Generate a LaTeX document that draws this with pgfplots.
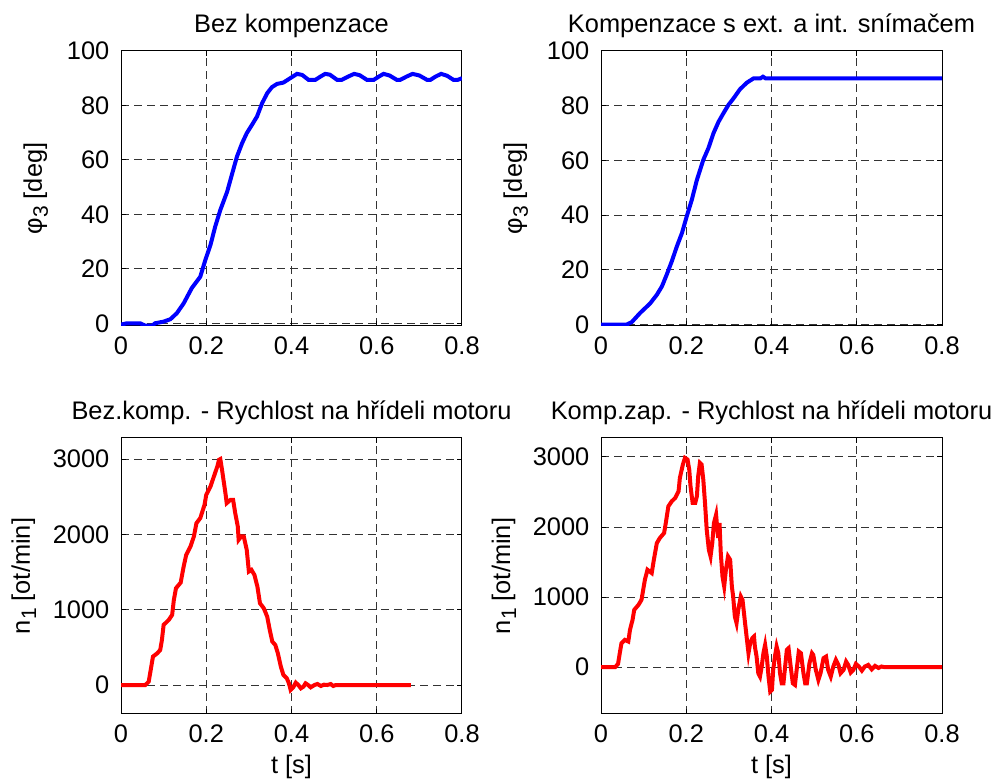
\documentclass[border=0pt]{standalone}
\usepackage{pgfplots}
\pgfplotsset{compat=1.18}
\usepackage{fontspec}
\setmainfont{Liberation Sans}

\newcommand{\sub}[1]{\raisebox{-0.45ex}{\fontsize{10.5}{12}\selectfont #1}}

% step responses: load angle and motor speed, without / with compensation
\pgfplotstableread{
t phi
0 -0.5
0.014 0
0.045 0
0.057 -0.9
0.073 -0.9
0.08 0
0.1 0.6
0.116 1.5
0.131 3.7
0.147 7.3
0.166 12.9
0.186 17.1
0.198 23.3
0.21 28.8
0.221 35.5
0.233 41.6
0.249 48.3
0.26 54.5
0.272 61.2
0.284 66.1
0.295 69.8
0.307 72.8
0.319 75.9
0.331 80.8
0.343 84.5
0.354 86.7
0.366 87.9
0.381 88.4
0.397 90.0
0.413 91.6
0.425 91.2
0.44 89.4
0.456 89.4
0.468 90.6
0.479 91.6
0.49 91.3
0.507 89.4
0.518 89.4
0.533 90.6
0.547 91.6
0.56 91.1
0.577 89.4
0.593 89.4
0.605 90.6
0.616 91.6
0.63 91.0
0.647 89.4
0.655 89.4
0.67 90.6
0.684 91.6
0.70 91.0
0.718 89.4
0.726 89.4
0.738 90.6
0.751 91.6
0.765 90.9
0.78 89.4
0.79 89.4
0.8 90.0
}\phiA

\pgfplotstableread{
t phi
0 0
0.06 0
0.072 0.9
0.092 4.3
0.115 7.7
0.131 10.9
0.143 14.0
0.154 18.2
0.166 23.1
0.178 28.6
0.19 33.5
0.201 39.5
0.213 45.6
0.225 52.9
0.24 60.2
0.252 64.5
0.264 70.0
0.276 74.2
0.287 77.2
0.299 80.3
0.311 82.7
0.326 86.0
0.342 88.4
0.358 90.0
0.374 90.0
0.38 90.6
0.386 90.0
0.8 90.0
}\phiB

\pgfplotstableread{
t n
0 0
0.057 0
0.065 44
0.069 177
0.075 377
0.085 421
0.092 465
0.096 598
0.1 798
0.112 864
0.12 931
0.124 1130
0.129 1285
0.14 1360
0.147 1573
0.153 1728
0.163 1839
0.171 1972
0.177 2149
0.186 2216
0.196 2393
0.2 2526
0.21 2637
0.218 2770
0.226 2902
0.23 2991
0.233 3000
0.237 2858
0.241 2703
0.245 2548
0.248 2415
0.257 2459
0.263 2459
0.268 2282
0.274 2105
0.276 1928
0.282 1972
0.288 1972
0.295 1795
0.3 1507
0.306 1529
0.313 1462
0.32 1307
0.326 1086
0.335 1019
0.343 908
0.349 731
0.355 576
0.362 532
0.368 421
0.375 244
0.381 133
0.389 89
0.394 22
0.398 -66
0.404 -31
0.41 31
0.416 0
0.422 -44
0.428 -22
0.433 22
0.439 0
0.445 -31
0.454 0
0.461 13
0.469 -13
0.476 4
0.484 0
0.492 13
0.498 -13
0.504 0
0.68 0
}\speedA

\pgfplotstableread{
t n
0 0
0.033 0
0.04 48
0.044 200
0.048 343
0.056 390
0.064 367
0.068 533
0.074 676
0.078 819
0.088 890
0.095 962
0.099 1105
0.103 1248
0.109 1390
0.119 1343
0.124 1533
0.131 1771
0.138 1843
0.148 1914
0.152 2057
0.158 2295
0.166 2367
0.174 2414
0.182 2510
0.185 2700
0.192 2890
0.197 2986
0.203 2962
0.207 2819
0.21 2581
0.215 2343
0.221 2343
0.225 2438
0.228 2724
0.232 2914
0.236 2890
0.24 2676
0.244 2343
0.248 1962
0.253 1676
0.257 1581
0.261 1771
0.265 2057
0.27 2176
0.273 1962
0.275 1843
0.278 2057
0.281 1629
0.285 1295
0.289 1152
0.293 1390
0.298 1581
0.303 1533
0.307 1152
0.31 1010
0.314 724
0.318 629
0.322 819
0.328 1010
0.332 962
0.338 629
0.342 414
0.346 200
0.35 343
0.355 414
0.359 438
0.361 295
0.365 152
0.369 -86
0.373 -133
0.377 10
0.381 200
0.385 319
0.389 152
0.393 -133
0.397 -348
0.401 -324
0.404 -38
0.408 152
0.412 295
0.416 200
0.42 -86
0.424 -229
0.428 -229
0.432 10
0.436 248
0.44 271
0.445 10
0.45 -229
0.455 -252
0.459 -38
0.464 224
0.469 200
0.475 -86
0.479 -229
0.483 -229
0.489 57
0.495 200
0.498 176
0.504 -38
0.51 -181
0.515 -86
0.522 129
0.528 152
0.533 -38
0.539 -133
0.545 10
0.551 105
0.557 33
0.562 -86
0.569 -38
0.575 81
0.58 33
0.586 -76
0.592 -38
0.598 48
0.605 10
0.612 -48
0.619 10
0.627 33
0.635 -29
0.643 19
0.651 -10
0.658 10
0.666 0
0.8 0
}\speedB

\begin{document}
\begin{tikzpicture}
\pgfplotsset{
  every axis/.append style={
    font=\fontsize{12.7}{15}\selectfont,
    scale only axis,
    width=170.5pt,
    xmin=0, xmax=0.8,
    xtick={0,0.2,0.4,0.6,0.8},
    xticklabels={0,0.2,0.4,0.6,0.8},
    grid=major,
    major grid style={dash pattern=on 4pt off 2.5pt, black!80, line width=0.5pt},
    axis line style={black, line width=0.5pt},
    tick align=inside,
    major tick length=2.5pt,
    tick style={black, line width=0.5pt},
    title style={at={(0.5,1)}, anchor=base, yshift=3pt},
    xticklabel style={yshift=-2pt},
    yticklabel style={xshift=-2.3pt},
    /pgf/number format/assume math mode=true,
  },
}
\path[use as bounding box] (0,0) rectangle (497.5pt,390pt);

% top left: angle, no compensation
\begin{axis}[
  at={(60.5pt,227pt)}, anchor=south west,
  height=137.5pt,
  ymin=-1, ymax=100,
  ytick={0,20,40,60,80,100},
  yticklabels={0,20,40,60,80,100},
  title={Bez kompenzace},
  ylabel={φ\sub{3} [deg]},
  ylabel style={at={(axis description cs:-0.25,0.5)}, anchor=center},
]
\addplot[blue, line width=2pt] table[x=t, y=phi] {\phiA};
\end{axis}

% top right: angle, compensated
\begin{axis}[
  at={(300.5pt,227pt)}, anchor=south west,
  height=137.5pt,
  ymin=-0.5, ymax=100,
  ytick={0,20,40,60,80,100},
  yticklabels={0,20,40,60,80,100},
  title={Kompenzace s ext. a int. snímačem},
  ylabel={φ\sub{3} [deg]},
  ylabel style={at={(axis description cs:-0.25,0.5)}, anchor=center},
]
\addplot[blue, line width=2pt] table[x=t, y=phi] {\phiB};
\end{axis}

% bottom left: motor speed, no compensation
\begin{axis}[
  at={(60.5pt,33pt)}, anchor=south west,
  height=138pt,
  ymin=-385, ymax=3280,
  ytick={0,1000,2000,3000},
  yticklabels={0,1000,2000,3000},
  title={Bez.komp. - Rychlost na hřídeli motoru},
  xlabel={t [s]},
  ylabel={n\sub{1} [ot/min]},
  xlabel style={at={(axis description cs:0.5,-0.192)}, anchor=center},
  ylabel style={at={(axis description cs:-0.285,0.5)}, anchor=center},
]
\addplot[red, line width=2pt] table[x=t, y=n] {\speedA};
\end{axis}

% bottom right: motor speed, compensated
\begin{axis}[
  at={(300.5pt,33pt)}, anchor=south west,
  height=138pt,
  ymin=-667, ymax=3270,
  ytick={0,1000,2000,3000},
  yticklabels={0,1000,2000,3000},
  title={Komp.zap. - Rychlost na hřídeli motoru},
  xlabel={t [s]},
  ylabel={n\sub{1} [ot/min]},
  xlabel style={at={(axis description cs:0.5,-0.192)}, anchor=center},
  ylabel style={at={(axis description cs:-0.285,0.5)}, anchor=center},
]
\addplot[red, line width=2pt] table[x=t, y=n] {\speedB};
\end{axis}
\end{tikzpicture}
\end{document}
